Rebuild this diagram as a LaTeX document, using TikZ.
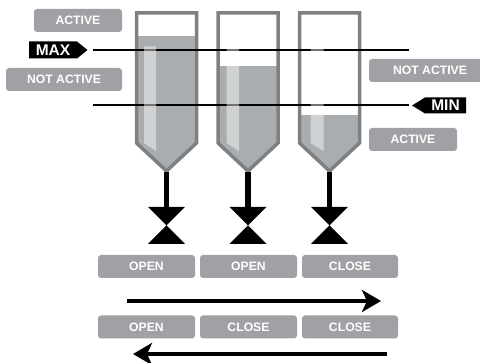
\documentclass[tikz,border=0pt]{standalone}
\usepackage{fontspec}
\setmainfont{Liberation Sans}
\usetikzlibrary{arrows.meta}
\definecolor{boxgray}{HTML}{9FA1A4}
\definecolor{rimgray}{HTML}{7E8184}
\definecolor{fluidgray}{HTML}{AAADAF}
\tikzset{
  x=1pt, y=-1pt,
  lbl/.style={fill=boxgray, rounded corners=3pt, text=white, inner sep=0pt,
    font=\fontsize{12.2}{12.5}\selectfont\bfseries, minimum height=23pt},
  tag/.style={text=white, inner sep=0pt, font=\fontsize{15.5}{16}\selectfont\bfseries},
  level/.style={line width=1.7pt, black},
  rim/.style={line width=3.5pt, rimgray, line join=miter},
  stem/.style={line width=5.5pt, black},
  flow/.style={line width=4pt, -{Stealth[length=19pt, width=22pt, inset=5pt]}},
  shine/.style={fill=white, fill opacity=0.45}
}
\begin{document}
\begin{tikzpicture}
\useasboundingbox (0,0) rectangle (480,363);
\clip (0,0) rectangle (480,363);

% tanks with their fluid levels
\foreach \c/\lev/\n in {166.5/36/1, 248/66/2, 329.5/115/3} {
  \begin{scope}
    \clip (\c-30,12.8) -- (\c-30,143) -- (\c,171) -- (\c+30,143) -- (\c+30,12.8) -- cycle;
    \fill[fluidgray] (\c-40,\lev) rectangle (\c+40,180);
  \end{scope}
  \draw[rim] (\c-30,12.8) -- (\c-30,143) -- (\c,171) -- (\c+30,143) -- (\c+30,12.8) -- cycle;
  \coordinate (tip\n) at (\c,172);
  % valve
  \fill[black] (\c-18.5,207) -- (\c+18.5,207) -- (\c,225.5) -- (\c+18.5,244)
    -- (\c-18.5,244) -- (\c,225.5) -- cycle;
  \coordinate (valve\n) at (\c,210);
  \draw[stem] (tip\n) -- (valve\n);
}

% level lines
\coordinate (maxL) at (93,50);
\coordinate (maxR) at (409,50);
\coordinate (minL) at (93,105);
\coordinate (minR) at (409,105);
\draw[level] (maxL) -- (maxR);
\draw[level] (minL) -- (minR);

% glass highlights
\foreach \c/\sl/\sr in {166.5/-22.5/-10.5, 248/-21.5/-9, 329.5/-19/-6} {
  \fill[shine] (\c+\sl,46.5) -- (\c+\sr,46.5) -- (\c+\sr,151) -- (\c+\sl,143) -- cycle;
}

% MAX / MIN markers
\fill[black] (29,41.5) -- (77,41.5) -- (87.5,50) -- (77,58.5) -- (29,58.5) -- cycle;
\node[tag] (max) at (53,50) {MAX};
\fill[black] (412,105.5) -- (425,97.5) -- (466,97.5) -- (466,113.5) -- (425,113.5) -- cycle;
\node[tag] (min) at (445.5,105.5) {MIN};

% state labels
\node[lbl, minimum width=88pt] (actA) at (78,20.5) {ACTIVE};
\node[lbl, minimum width=116pt] (naL) at (64,79.5) {NOT ACTIVE};
\node[lbl, minimum width=122pt] (naR) at (430,70.5) {NOT ACTIVE};
\node[lbl, minimum width=88pt] (actR) at (413,139.5) {ACTIVE};

% valve states
\node[lbl, minimum width=97pt] (o1) at (146.5,266.5) {OPEN};
\node[lbl, minimum width=97pt] (o2) at (248.5,266.5) {OPEN};
\node[lbl, minimum width=96pt] (o3) at (350,266.5) {CLOSE};
\node[lbl, minimum width=97pt] (p1) at (146.5,327) {OPEN};
\node[lbl, minimum width=97pt] (p2) at (248.5,327) {CLOSE};
\node[lbl, minimum width=96pt] (p3) at (350,327) {CLOSE};

% direction arrows
\coordinate (fillS) at (127,301);
\coordinate (fillE) at (381,301);
\coordinate (drainS) at (387,354);
\coordinate (drainE) at (133,354);
\draw[flow] (fillS) -- (fillE);
\draw[flow] (drainS) -- (drainE);
\end{tikzpicture}
\end{document}
